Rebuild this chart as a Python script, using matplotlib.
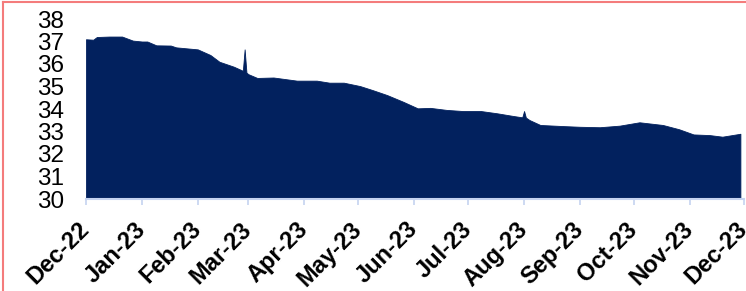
import numpy as np
import pandas as pd
import matplotlib
matplotlib.use("Agg")
import matplotlib.pyplot as plt
from matplotlib.lines import Line2D

# values
dates = [
    "2022-12-01", "2022-12-05", "2022-12-07", "2022-12-14", "2022-12-21", "2022-12-27",
    "2023-01-01", "2023-01-04", "2023-01-09", "2023-01-17", "2023-01-20", "2023-02-01",
    "2023-02-08", "2023-02-13", "2023-02-21", "2023-02-26", "2023-02-27", "2023-02-28",
    "2023-03-01", "2023-03-06", "2023-03-15", "2023-03-28", "2023-04-08", "2023-04-15",
    "2023-04-23", "2023-05-02", "2023-05-09", "2023-05-17", "2023-05-26", "2023-06-03",
    "2023-06-10", "2023-06-19", "2023-06-28", "2023-07-08", "2023-07-17", "2023-07-26",
    "2023-07-31", "2023-08-01", "2023-08-02", "2023-08-04", "2023-08-10", "2023-08-23",
    "2023-09-01", "2023-09-12", "2023-09-23", "2023-10-04", "2023-10-17", "2023-10-26",
    "2023-11-03", "2023-11-12", "2023-11-19", "2023-11-29",
]
values = [
    37.10, 37.08, 37.20, 37.22, 37.22, 37.04,
    37.00, 37.00, 36.83, 36.82, 36.74, 36.65,
    36.40, 36.10, 35.88, 35.70, 36.65, 35.62,
    35.55, 35.38, 35.40, 35.26, 35.26, 35.17,
    35.17, 35.02, 34.84, 34.62, 34.32, 34.03,
    34.05, 33.96, 33.91, 33.91, 33.81, 33.69,
    33.63, 33.91, 33.62, 33.51, 33.29, 33.24,
    33.21, 33.19, 33.26, 33.41, 33.29, 33.10,
    32.87, 32.84, 32.77, 32.90,
]
tick_dates = pd.date_range("2022-12-01", "2023-12-01", freq="MS")
tick_labels = [d.strftime("%b-%y") for d in tick_dates]

x = pd.to_datetime(dates)
y = np.array(values)

fig = plt.figure(figsize=(7.46, 2.91), dpi=100)
ax = fig.add_axes([86 / 746, 92 / 291, 658 / 746, 180 / 291])

ax.fill_between(x, 30, y, color="#02215e", linewidth=0.6, edgecolor="#02215e")

ax.set_ylim(30, 38)
ax.set_xlim(tick_dates[0], tick_dates[-1])
ax.set_yticks(range(30, 39))
ax.set_yticklabels([str(v) for v in range(30, 39)], fontsize=17.5, family="Liberation Sans")
ax.tick_params(axis="y", length=0, pad=16)

ax.set_xticks(tick_dates)
ax.set_xticklabels(tick_labels, fontsize=17, family="Liberation Sans", fontweight="bold",
                   rotation=45, ha="right", va="center", rotation_mode="anchor")
ax.tick_params(axis="x", length=4.3, width=1.2, color="#c5d3f0", direction="out", pad=15)

for s in ["top", "right", "left"]:
    ax.spines[s].set_visible(False)
ax.spines["bottom"].set_color("#c5d3f0")
ax.spines["bottom"].set_linewidth(1.5)

# cropped red frame on the left and top
fig.add_artist(Line2D([3.5 / 746, 3.5 / 746], [0, 1 - 2 / 291], transform=fig.transFigure,
                      color="#f47c7c", linewidth=1.5))
fig.add_artist(Line2D([3.5 / 746, 1], [1 - 2 / 291, 1 - 2 / 291], transform=fig.transFigure,
                      color="#f47c7c", linewidth=1.5))

fig.savefig("out.png", dpi=100)
